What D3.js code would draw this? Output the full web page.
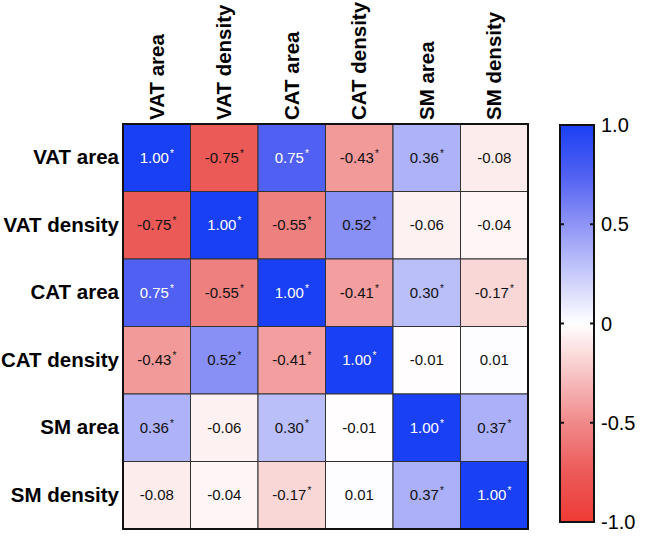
<!DOCTYPE html>
<html>
<head>
<meta charset="utf-8">
<script src="https://cdn.jsdelivr.net/npm/d3@7"></script>
<style>
  body { margin: 0; background: #fff; }
  text { font-family: Arial, "Liberation Sans", sans-serif; }
</style>
</head>
<body>
<div id="main"></div>
<script>
// Variables (rows and columns are the same list)
const labels = ['VAT area', 'VAT density', 'CAT area', 'CAT density', 'SM area', 'SM density'];

// Correlation values, one array per row
const vatArea    = [1.00, -0.75, 0.75, -0.43, 0.36, -0.08];
const vatDensity = [-0.75, 1.00, -0.55, 0.52, -0.06, -0.04];
const catArea    = [0.75, -0.55, 1.00, -0.41, 0.30, -0.17];
const catDensity = [-0.43, 0.52, -0.41, 1.00, -0.01, 0.01];
const smArea     = [0.36, -0.06, 0.30, -0.01, 1.00, 0.37];
const smDensity  = [-0.08, -0.04, -0.17, 0.01, 0.37, 1.00];

// Significance flags (asterisk), one array per row
const sigVatArea    = [1, 1, 1, 1, 1, 0];
const sigVatDensity = [1, 1, 1, 1, 0, 0];
const sigCatArea    = [1, 1, 1, 1, 1, 1];
const sigCatDensity = [1, 1, 1, 1, 0, 0];
const sigSmArea     = [1, 0, 1, 0, 1, 1];
const sigSmDensity  = [0, 0, 1, 0, 1, 1];

const colorTicks = [1, 0.5, 0, -0.5, -1];
const colorTickLabels = ['1.0', '0.5', '0', '-0.5', '-1.0'];

const values = [vatArea, vatDensity, catArea, catDensity, smArea, smDensity];
const sigs = [sigVatArea, sigVatDensity, sigCatArea, sigCatDensity, sigSmArea, sigSmDensity];

const cells = [];
values.forEach((row, i) => row.forEach((v, j) => {
    cells.push({ row: labels[i], col: labels[j], v: v, sig: sigs[i][j] });
}));

// Size of the SVG
const w = 646;
const h = 541;
const leftX = 123;
const topY = 124;
const size = 405;

const svg = d3.select('#main')
    .append('svg')
    .attr('width', w)
    .attr('height', h);

const xScale = d3.scaleBand().domain(labels).range([leftX, leftX + size]);
const yScale = d3.scaleBand().domain(labels).range([topY, topY + size]);

// red - white - blue, with a few knots to get the tint right
const color = d3.scaleLinear()
    .domain([-1, -0.75, -0.5, 0, 0.5, 0.75, 1])
    .range(['#ee3a35', '#ec5a58', '#f0898a', '#ffffff', '#8e94f5', '#5060f2', '#1a40f5'])
    .clamp(true);

// Cells
svg.selectAll('rect.cell')
    .data(cells)
    .enter()
    .append('rect')
    .attr('class', 'cell')
    .attr('x', (d) => xScale(d.col))
    .attr('y', (d) => yScale(d.row))
    .attr('width', xScale.bandwidth())
    .attr('height', yScale.bandwidth())
    .style('fill', (d) => color(d.v))
    .style('stroke', '#333')
    .style('stroke-width', 1);

// Cell text
const txt = svg.selectAll('text.val')
    .data(cells)
    .enter()
    .append('text')
    .attr('class', 'val')
    .attr('x', (d) => xScale(d.col) + xScale.bandwidth() / 2)
    .attr('y', (d) => yScale(d.row) + yScale.bandwidth() / 2 + 5)
    .attr('text-anchor', 'middle')
    .style('font-size', '15px')
    .style('fill', (d) => (d.v >= 0.7 ? '#fff' : '#111'));

txt.append('tspan').text((d) => d.v.toFixed(2));
txt.append('tspan')
    .attr('dx', 1)
    .attr('dy', -6)
    .style('font-size', '10px')
    .text((d) => (d.sig ? '*' : ''));

// Outer border
svg.append('rect')
    .attr('x', leftX)
    .attr('y', topY)
    .attr('width', size)
    .attr('height', size)
    .style('fill', 'none')
    .style('stroke', '#111')
    .style('stroke-width', 2);

// Row labels
const yAxis = d3.axisLeft(yScale).tickSize(0).tickPadding(4);
const gy = svg.append('g').attr('transform', 'translate(' + leftX + ',0)').call(yAxis);
gy.select('.domain').remove();
gy.selectAll('text')
    .style('font-size', '20.5px')
    .style('font-weight', 'bold')
    .style('fill', '#000');

// Column labels (rotated)
const xAxis = d3.axisTop(xScale).tickSize(0).tickPadding(4);
const gx = svg.append('g').attr('transform', 'translate(0,' + topY + ')').call(xAxis);
gx.select('.domain').remove();
gx.selectAll('text')
    .attr('transform', 'rotate(-90)')
    .attr('x', 4)
    .attr('y', 0)
    .attr('dy', '0.35em')
    .attr('text-anchor', 'start')
    .style('font-size', '20.5px')
    .style('font-weight', 'bold')
    .style('fill', '#000');

// Colour bar
const barX = 560;
const barW = 34;
const barTop = 125;
const barBottom = 522;
const cScale = d3.scaleLinear().domain([-1, 1]).range([barBottom, barTop]);

const defs = svg.append('defs');
const grad = defs.append('linearGradient')
    .attr('id', 'cgrad')
    .attr('x1', 0).attr('y1', 1).attr('x2', 0).attr('y2', 0);
d3.range(-1, 1.001, 0.05).forEach((v) => {
    grad.append('stop')
        .attr('offset', ((v + 1) / 2 * 100) + '%')
        .attr('stop-color', color(v));
});

svg.append('rect')
    .attr('x', barX)
    .attr('y', barTop)
    .attr('width', barW)
    .attr('height', barBottom - barTop)
    .style('fill', 'url(#cgrad)')
    .style('stroke', '#111')
    .style('stroke-width', 2);

// small ticks on both sides of the bar
svg.selectAll('g.ctick')
    .data(colorTicks.filter((t) => Math.abs(t) < 1))
    .enter()
    .append('g')
    .attr('class', 'ctick')
    .each(function (t) {
        const g = d3.select(this);
        g.append('line')
            .attr('x1', barX).attr('x2', barX + 4)
            .attr('y1', cScale(t)).attr('y2', cScale(t))
            .style('stroke', '#111').style('stroke-width', 2);
        g.append('line')
            .attr('x1', barX + barW - 4).attr('x2', barX + barW)
            .attr('y1', cScale(t)).attr('y2', cScale(t))
            .style('stroke', '#111').style('stroke-width', 2);
    });

svg.selectAll('text.clab')
    .data(colorTicks)
    .enter()
    .append('text')
    .attr('class', 'clab')
    .attr('x', barX + barW + 7)
    .attr('y', (d) => cScale(d) + 7)
    .style('font-size', '20px')
    .style('fill', '#000')
    .text((d, i) => colorTickLabels[i]);
</script>
</body>
</html>
